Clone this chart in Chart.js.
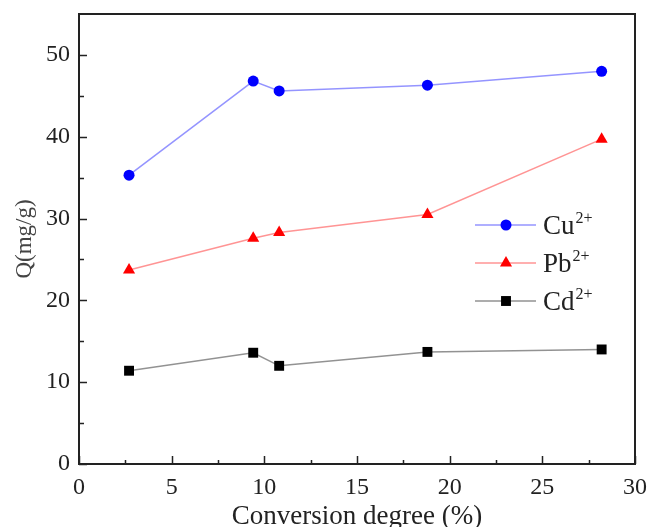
<!DOCTYPE html>
<html>
<head>
<meta charset="utf-8">
<script src="https://cdn.jsdelivr.net/npm/chart.js@4/dist/chart.umd.min.js"></script>
<style>
  html, body { margin: 0; padding: 0; background: #fff; }
  #wrap { width: 652px; height: 527px; }
</style>
</head>
<body>
<div id="wrap"><canvas id="qChart" width="652" height="527"></canvas></div>
<script>
// conversion degree (%) of each sample, same for all three metals
const conversionDegree = [2.7, 9.4, 10.8, 18.8, 28.2];
const cuQ = [35.3, 46.8, 45.6, 46.3, 48.0];
const pbQ = [23.7, 27.6, 28.3, 30.5, 39.7];
const cdQ = [11.4, 13.6, 12.0, 13.7, 14.0];
const seriesNames = ['Cu', 'Pb', 'Cd'];
const xTicks = [0, 5, 10, 15, 20, 25, 30];
const yTicks = [0, 10, 20, 30, 40, 50];

const serif = '"Liberation Serif", "Times New Roman", serif';
const toPoints = (ys) => ys.map((y, i) => ({ x: conversionDegree[i], y: y }));

// inward ticks + closed frame, like the origin plot
const frameAndTicks = {
  id: 'frameAndTicks',
  afterDraw(chart) {
    const { ctx, chartArea: a, scales: { x, y } } = chart;
    ctx.save();
    ctx.strokeStyle = '#222';
    ctx.lineWidth = 2;
    ctx.strokeRect(a.left, a.top, a.right - a.left, a.bottom - a.top);
    ctx.lineWidth = 1.5;
    ctx.beginPath();
    for (let v = 0; v <= 30; v += 2.5) {
      const px = Math.round(x.getPixelForValue(v)) + 0.5;
      const len = v % 5 === 0 ? 8 : 4;
      ctx.moveTo(px, a.bottom);
      ctx.lineTo(px, a.bottom - len);
    }
    for (let v = 0; v <= 50; v += 5) {
      const py = Math.round(y.getPixelForValue(v)) + 0.5;
      const len = v % 10 === 0 ? 8 : 5;
      ctx.moveTo(a.left, py);
      ctx.lineTo(a.left + len, py);
    }
    ctx.stroke();
    ctx.restore();
  }
};

function marker(ctx, style, cx, cy, r) {
  ctx.beginPath();
  if (style === 'circle') {
    ctx.arc(cx, cy, r, 0, Math.PI * 2);
  } else if (style === 'triangle') {
    ctx.moveTo(cx, cy - r);
    ctx.lineTo(cx + r * 0.866, cy + r * 0.5);
    ctx.lineTo(cx - r * 0.866, cy + r * 0.5);
    ctx.closePath();
  } else {
    const s = r * Math.SQRT1_2;
    ctx.rect(cx - s, cy - s, 2 * s, 2 * s);
  }
  ctx.fill();
}

// legend with line + marker and superscript charge
const ionLegend = {
  id: 'ionLegend',
  afterDraw(chart) {
    const ctx = chart.ctx;
    const rows = [225, 263, 301];
    ctx.save();
    chart.data.datasets.forEach((ds, i) => {
      const yy = rows[i];
      ctx.strokeStyle = ds.borderColor;
      ctx.lineWidth = ds.borderWidth;
      ctx.beginPath();
      ctx.moveTo(475, yy);
      ctx.lineTo(536, yy);
      ctx.stroke();
      ctx.fillStyle = ds.pointBackgroundColor;
      marker(ctx, ds.pointStyle, 506, yy, ds.pointRadius);
      ctx.fillStyle = '#222';
      ctx.textBaseline = 'alphabetic';
      ctx.font = '27px ' + serif;
      ctx.fillText(seriesNames[i], 543, yy + 9);
      const w = ctx.measureText(seriesNames[i]).width;
      ctx.font = '16px ' + serif;
      ctx.fillText('2+', 543 + w + 1, yy - 2);
    });
    ctx.restore();
  }
};

new Chart(document.getElementById('qChart'), {
  type: 'line',
  data: {
    datasets: [{
      label: 'Cu2+',
      data: toPoints(cuQ),
      borderColor: 'rgba(90, 90, 255, 0.65)',
      borderWidth: 1.5,
      pointStyle: 'circle',
      pointRadius: 5.5,
      pointBackgroundColor: '#0000ff',
      pointBorderWidth: 0
    }, {
      label: 'Pb2+',
      data: toPoints(pbQ),
      borderColor: 'rgba(255, 90, 90, 0.65)',
      borderWidth: 1.5,
      pointStyle: 'triangle',
      pointRadius: 7,
      pointBackgroundColor: '#ff0000',
      pointBorderWidth: 0
    }, {
      label: 'Cd2+',
      data: toPoints(cdQ),
      borderColor: 'rgba(100, 100, 100, 0.7)',
      borderWidth: 1.5,
      pointStyle: 'rect',
      pointRadius: 7,
      pointBackgroundColor: '#000000',
      pointBorderWidth: 0
    }]
  },
  options: {
    responsive: false,
    animation: false,
    layout: { padding: { top: 14, right: 17, left: 0, bottom: 0 } },
    plugins: { legend: { display: false }, tooltip: { enabled: false } },
    scales: {
      x: {
        type: 'linear',
        min: 0,
        max: 30,
        afterFit(s) { s.height = 63; s.paddingLeft = 0; s.paddingRight = 0; },
        afterBuildTicks(s) { s.ticks = xTicks.map(v => ({ value: v })); },
        grid: { display: false, drawTicks: false },
        border: { display: false },
        ticks: { padding: 9, color: '#222', font: { family: serif, size: 24 }, maxRotation: 0 },
        title: {
          display: true,
          text: 'Conversion degree (%)',
          color: '#222',
          font: { family: serif, size: 27, lineHeight: 1 },
          padding: { top: 0, bottom: -3 }
        }
      },
      y: {
        min: 0,
        max: 55,
        afterFit(s) { s.width = 79; s.paddingTop = 0; s.paddingBottom = 0; },
        afterBuildTicks(s) { s.ticks = yTicks.map(v => ({ value: v })); },
        grid: { display: false, drawTicks: false },
        border: { display: false },
        ticks: { padding: 9, color: '#222', font: { family: serif, size: 24 } },
        title: {
          display: true,
          text: 'Q(mg/g)',
          color: '#444',
          font: { family: serif, size: 23, lineHeight: 1 },
          padding: { top: 13, bottom: 0 }
        }
      }
    }
  },
  plugins: [frameAndTicks, ionLegend]
});
</script>
</body>
</html>
